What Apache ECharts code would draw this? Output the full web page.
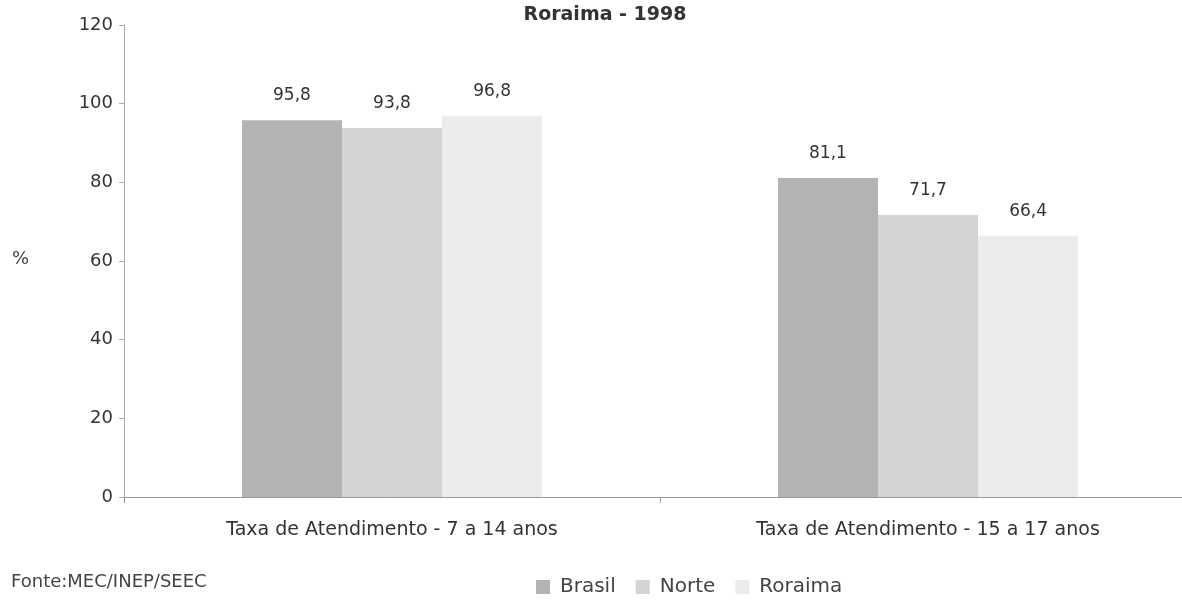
<!DOCTYPE html>
<html><head><meta charset="utf-8">
<script src="https://cdn.jsdelivr.net/npm/echarts@6/dist/echarts.min.js"></script>
<style>html,body{margin:0;padding:0;background:#fff}#c{width:1182px;height:602px}</style>
</head><body><div id="c"></div>
<script>
const categories = ["Taxa de Atendimento - 7 a 14 anos", "Taxa de Atendimento - 15 a 17 anos"];
const brasil = [95.8, 81.1];
const norte = [93.8, 71.7];
const roraima = [96.8, 66.4];
const seriesNames = ["Brasil", "Norte", "Roraima"];
const colors = ["#b3b3b3", "#d3d3d3", "#ececec"];
const font = "DejaVu Sans, Liberation Sans, sans-serif";
const chart = echarts.init(document.getElementById('c'));
const lbl = {show: true, position: 'top', distance: 16, color: '#333', fontSize: 17, fontFamily: font,
  formatter: p => p.value.toFixed(1).replace('.', ',')};
chart.setOption({
  animation: false,
  title: {text: 'Roraima - 1998', left: 600, top: 1, textAlign: 'center',
    textStyle: {fontSize: 19, fontWeight: 'bold', color: '#333', fontFamily: font}},
  legend: {left: 531, top: 572, itemWidth: 14, itemHeight: 14, itemGap: 20, icon: 'rect',
    textStyle: {fontSize: 20, color: '#444', fontFamily: font, padding: [0, 0, 0, 5]},
    data: seriesNames},
  graphic: [
    {type: 'text', left: 11, top: 573, style: {text: 'Fonte:MEC/INEP/SEEC', fontSize: 18, fill: '#444', fontFamily: font}},
    {type: 'text', left: 12, top: 250, style: {text: '%', fontSize: 18, fill: '#444', fontFamily: font}}
  ],
  grid: {left: 124, top: 25, width: 1072, height: 472, outerBoundsMode: 'none', containLabel: false},
  xAxis: {type: 'category', data: categories,
    axisLine: {lineStyle: {color: '#999'}},
    axisTick: {show: true, length: 6, lineStyle: {color: '#999'}},
    axisLabel: {color: '#333', fontSize: 19, fontFamily: font, margin: 24}},
  yAxis: {type: 'value', min: 0, max: 120, interval: 20,
    axisLine: {show: true, lineStyle: {color: '#aaa'}},
    axisTick: {show: true, length: 5, lineStyle: {color: '#aaa'}},
    splitLine: {show: false},
    axisLabel: {color: '#333', fontSize: 18, fontFamily: font, margin: 11}},
  series: [
    {name: seriesNames[0], type: 'bar', data: brasil, barGap: '0%', barCategoryGap: '44%', itemStyle: {color: colors[0]}, label: lbl},
    {name: seriesNames[1], type: 'bar', data: norte, itemStyle: {color: colors[1]}, label: lbl},
    {name: seriesNames[2], type: 'bar', data: roraima, itemStyle: {color: colors[2]}, label: lbl}
  ]
});
</script></body></html>
